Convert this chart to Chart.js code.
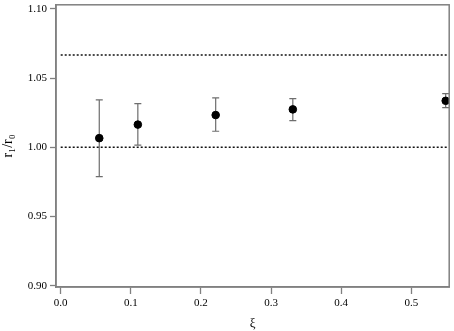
<!DOCTYPE html>
<html>
<head>
<meta charset="utf-8">
<script src="https://cdn.jsdelivr.net/npm/chart.js@4.4.1/dist/chart.umd.min.js"></script>
<style>
  html, body { margin: 0; padding: 0; background: #fff; }
  #wrap { width: 454px; height: 331px; }
</style>
</head>
<body>
<div id="wrap"><canvas id="chart_ratio"></canvas></div>
<script>
var xiValues = [0.055, 0.110, 0.221, 0.331, 0.549];
var ratioValues = [1.0066, 1.0164, 1.0233, 1.0274, 1.0336];
var errLow = [0.9788, 1.0016, 1.0116, 1.0193, 1.0286];
var errHigh = [1.0343, 1.0316, 1.0357, 1.0352, 1.0388];
var refLevels = [1.0667, 1.0000];
var refSpan = [0.0, 0.551];
var xTicks = [0.0, 0.1, 0.2, 0.3, 0.4, 0.5];
var yTicks = [0.90, 0.95, 1.00, 1.05, 1.10];

var points = xiValues.map(function(x, i) { return { x: x, y: ratioValues[i] }; });

var refSets = refLevels.map(function(level) {
    return {
        type: 'line',
        data: refSpan.map(function(x) { return { x: x, y: level }; }),
        borderColor: '#111',
        borderWidth: 1.6,
        borderDash: [2, 2],
        pointRadius: 0,
        fill: false
    };
});

var serif = "'Liberation Serif', 'Times New Roman', serif";
var axisGray = '#808080';

var chart_ratio = new Chart(document.getElementById('chart_ratio'), {
    type: 'scatter',
    data: {
        datasets: refSets.concat([{
            data: points,
            backgroundColor: '#000',
            borderColor: '#000',
            pointRadius: 3.8,
            pointHoverRadius: 3.8
        }])
    },
    options: {
        animation: false,
        responsive: true,
        maintainAspectRatio: false,
        layout: { padding: { top: 2, right: 4, left: 0, bottom: 0 } },
        plugins: {
            legend: { display: false },
            tooltip: { enabled: false }
        },
        scales: {
            x: {
                type: 'linear',
                min: -0.0067,
                max: 0.554,
                afterBuildTicks: function(scale) {
                    scale.ticks = xTicks.map(function(v) { return { value: v }; });
                },
                afterFit: function(scale) {
                    scale.height = 44;
                    scale.paddingLeft = 0;
                    scale.paddingRight = 0;
                },
                ticks: {
                    color: '#000',
                    font: { family: serif, size: 11 },
                    padding: 3,
                    maxRotation: 0,
                    callback: function(value) { return value.toFixed(1); }
                },
                grid: { drawOnChartArea: false, drawTicks: true, tickLength: 7, tickColor: axisGray, tickWidth: 1.3 },
                border: { display: true, color: axisGray, width: 1.5 },
                title: {
                    display: true,
                    text: 'ξ',
                    color: '#000',
                    font: { family: serif, size: 13 },
                    padding: { top: 0, bottom: 0 }
                }
            },
            y: {
                type: 'linear',
                min: 0.899,
                max: 1.103,
                afterBuildTicks: function(scale) {
                    scale.ticks = yTicks.map(function(v) { return { value: v }; });
                },
                afterFit: function(scale) {
                    scale.width = 56;
                    scale.paddingTop = 0;
                    scale.paddingBottom = 0;
                },
                ticks: {
                    color: '#000',
                    font: { family: serif, size: 11 },
                    padding: 3,
                    callback: function(value) { return value.toFixed(2); }
                },
                grid: { drawOnChartArea: false, drawTicks: true, tickLength: 6, tickColor: axisGray, tickWidth: 1.3 },
                border: { display: true, color: axisGray, width: 1.5 },
                title: {
                    display: true,
                    text: 'r\u2081/r\u2080',
                    color: '#000',
                    font: { family: serif, size: 14 },
                    padding: { top: 0, bottom: 2 }
                }
            }
        }
    },
    plugins: [{
        id: 'errorBars',
        beforeDatasetsDraw: function(chart) {
            var ctx = chart.ctx;
            var xs = chart.scales.x, ys = chart.scales.y;
            ctx.save();
            ctx.strokeStyle = '#6e6e6e';
            ctx.lineWidth = 1.2;
            xiValues.forEach(function(x, i) {
                var px = xs.getPixelForValue(x);
                var top = ys.getPixelForValue(errHigh[i]);
                var bot = ys.getPixelForValue(errLow[i]);
                ctx.beginPath();
                ctx.moveTo(px, top); ctx.lineTo(px, bot);
                ctx.moveTo(px - 3.5, top); ctx.lineTo(px + 3.5, top);
                ctx.moveTo(px - 3.5, bot); ctx.lineTo(px + 3.5, bot);
                ctx.stroke();
            });
            ctx.restore();
        }
    }, {
        id: 'frame',
        afterDraw: function(chart) {
            var a = chart.chartArea, ctx = chart.ctx;
            ctx.save();
            ctx.strokeStyle = axisGray;
            ctx.lineWidth = 1.5;
            ctx.strokeRect(a.left, a.top, a.right - a.left, a.bottom - a.top);
            ctx.restore();
        }
    }]
});
</script>
</body>
</html>
